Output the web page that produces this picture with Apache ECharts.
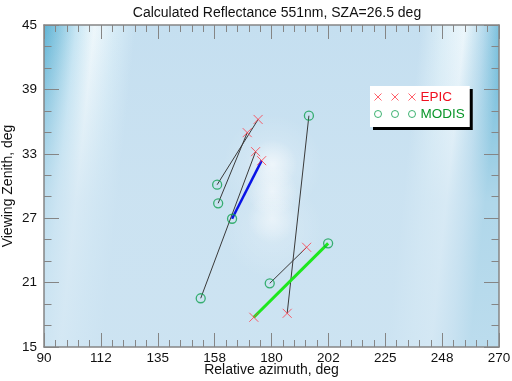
<!DOCTYPE html>
<html>
<head>
<meta charset="utf-8">
<script src="https://cdn.jsdelivr.net/npm/echarts@6/dist/echarts.min.js"></script>
<style>
html, body { margin: 0; padding: 0; background: #fff; }
#main { width: 512px; height: 381px; }
</style>
</head>
<body>
<div id="main"></div>
<script>
// tick labels as printed on the x axis (every 22.5 deg)
var xTickLabels = ['90', '112', '135', '158', '180', '202', '225', '248', '270'];

// EPIC (red x) and MODIS (green o), index i of each array is one matched pair
var epicAzimuth = [174.7, 170.4, 173.7, 176.1, 193.9, 186.2, 173.0];
var epicZenith = [36.2, 34.97, 33.2, 32.36, 24.29, 18.14, 17.77];
var modisAzimuth = [158.5, 158.9, 152.0, 164.4, 179.3, 194.8, 202.4];
var modisZenith = [30.12, 28.39, 19.54, 26.95, 20.93, 36.55, 24.66];

var font = 'Liberation Sans, Arial, Helvetica, sans-serif';
var frameColor = '#858585';
var pairLine = [
	{ color: '#3a3a3a', width: 1 },
	{ color: '#3a3a3a', width: 1 },
	{ color: '#3a3a3a', width: 1 },
	{ color: '#0a14e6', width: 2.5 },
	{ color: '#3a3a3a', width: 1 },
	{ color: '#3a3a3a', width: 1 },
	{ color: '#1ee81e', width: 3 }
];

function glow(a) {
	return {
		type: 'radial', x: 0.5, y: 0.5, r: 0.5,
		colorStops: [
			{ offset: 0, color: 'rgba(255,255,255,' + a + ')' },
			{ offset: 1, color: 'rgba(255,255,255,0)' }
		]
	};
}

var series = [];

// soft shading of the contour field: lower part fades to the base colour
series.push({
	type: 'scatter',
	silent: true,
	z: 0,
	data: [],
	markArea: {
		silent: true,
		z: 0,
		itemStyle: {
			color: {
				type: 'linear', x: 0, y: 0, x2: 0, y2: 1,
				colorStops: [
					{ offset: 0, color: 'rgba(206,228,242,0)' },
					{ offset: 0.25, color: 'rgba(206,228,242,0.3)' },
					{ offset: 0.55, color: 'rgba(206,228,242,0.7)' },
					{ offset: 1, color: 'rgba(206,228,242,0.82)' }
				]
			}
		},
		data: [[{ coord: [90, 45] }, { coord: [270, 15] }]]
	}
});

// bright maximum of the reflectance near the centre
series.push({
	type: 'scatter',
	silent: true,
	z: 2,
	symbol: 'circle',
	data: [
		{ value: [180.5, 32], symbolSize: 100, itemStyle: { color: glow(0.35) } },
		{ value: [180.5, 26], symbolSize: 100, itemStyle: { color: glow(0.3) } },
		{ value: [180.3, 32], symbolSize: 50, itemStyle: { color: glow(0.7) } },
		{ value: [180.3, 29.5], symbolSize: 50, itemStyle: { color: glow(0.7) } },
		{ value: [180.3, 27], symbolSize: 50, itemStyle: { color: glow(0.6) } }
	]
});

// connecting lines EPIC <-> MODIS
for (var i = 0; i < epicAzimuth.length; i++) {
	series.push({
		type: 'line',
		silent: true,
		z: 3,
		symbol: 'none',
		lineStyle: { color: pairLine[i].color, width: pairLine[i].width },
		data: [[modisAzimuth[i], modisZenith[i]], [epicAzimuth[i], epicZenith[i]]]
	});
}

var epicData = [], modisData = [];
for (var j = 0; j < epicAzimuth.length; j++) {
	epicData.push([epicAzimuth[j], epicZenith[j]]);
	modisData.push([modisAzimuth[j], modisZenith[j]]);
}

series.push({
	name: 'EPIC',
	type: 'scatter',
	z: 4,
	symbol: 'path://M0,0L10,10M10,0L0,10',
	symbolSize: 9,
	itemStyle: { color: 'rgba(0,0,0,0)', borderColor: '#ff3a46', borderWidth: 1 },
	data: epicData
});
series.push({
	name: 'MODIS',
	type: 'scatter',
	z: 4,
	symbol: 'circle',
	symbolSize: 9,
	itemStyle: { color: 'rgba(0,0,0,0)', borderColor: '#10a050', borderWidth: 1.3 },
	data: modisData
});

function xAxisOf(pos, labels) {
	return {
		type: 'value', position: pos, min: 90, max: 270, interval: 22.5, z: 10,
		axisLine: { show: true, onZero: false, lineStyle: { color: frameColor, width: 1.5 } },
		axisTick: { show: true, inside: true, length: 14, lineStyle: { color: frameColor, width: 1 } },
		minorTick: { show: true, splitNumber: 5, length: 7, lineStyle: { color: frameColor, width: 1 } },
		splitLine: { show: false },
		axisLabel: {
			show: labels, margin: 4, color: '#111', fontSize: 13.5, fontFamily: font,
			formatter: function (v) {
				var k = Math.round((v - 90) / 22.5);
				return xTickLabels[k] !== undefined ? xTickLabels[k] : '';
			}
		},
		name: labels ? 'Relative azimuth, deg' : '',
		nameLocation: 'middle', nameGap: 16, nameMoveOverlap: false,
		nameTextStyle: { color: '#111', fontSize: 14, fontFamily: font }
	};
}

function yAxisOf(pos, labels) {
	return {
		type: 'value', position: pos, min: 15, max: 45, interval: 6, z: 10,
		axisLine: { show: true, onZero: false, lineStyle: { color: frameColor, width: 1.5 } },
		axisTick: { show: true, inside: true, length: 15, lineStyle: { color: frameColor, width: 1 } },
		minorTick: { show: true, splitNumber: 3, length: 7.5, lineStyle: { color: frameColor, width: 1 } },
		splitLine: { show: false },
		axisLabel: { show: labels, margin: 7, color: '#111', fontSize: 13.5, fontFamily: font },
		name: labels ? 'Viewing Zenith, deg' : '',
		nameLocation: 'middle', nameGap: 29, nameMoveOverlap: false,
		nameTextStyle: { color: '#111', fontSize: 14, fontFamily: font }
	};
}

var chart = echarts.init(document.getElementById('main'));
chart.setOption({
	animation: false,
	title: {
		text: 'Calculated Reflectance 551nm, SZA=26.5 deg',
		left: 272, top: 1, textAlign: 'center',
		textStyle: { color: '#111', fontSize: 14, fontWeight: 'normal', fontFamily: font }
	},
	grid: {
		left: 44, right: 13, top: 25, bottom: 34,
		outerBoundsMode: 'none',
		containLabel: false,
		show: true, borderWidth: 0,
		backgroundColor: {
			type: 'linear', x: 0, y: 0, x2: 1, y2: 0.15,
			colorStops: [
				{ offset: 0, color: '#5fb3d4' },
				{ offset: 0.035, color: '#8fcae2' },
				{ offset: 0.07, color: '#c6e5f3' },
				{ offset: 0.11, color: '#eef7fb' },
				{ offset: 0.155, color: '#d6ebf6' },
				{ offset: 0.2, color: '#c5dff0' },
				{ offset: 0.82, color: '#c5dff0' },
				{ offset: 0.87, color: '#dceef7' },
				{ offset: 0.915, color: '#ecf6fb' },
				{ offset: 0.958, color: '#b3d9ec' },
				{ offset: 1, color: '#68b8d7' }
			]
		}
	},
	legend: {
		data: [
			{ name: 'EPIC', icon: 'path://M0,0L7,7M7,0L0,7M17,0L24,7M24,0L17,7M34,0L41,7M41,0L34,7', textStyle: { color: '#f01020' } },
			{ name: 'MODIS', icon: 'path://M7,3.5A3.5,3.5,0,1,1,0,3.5A3.5,3.5,0,1,1,7,3.5ZM24,3.5A3.5,3.5,0,1,1,17,3.5A3.5,3.5,0,1,1,24,3.5ZM41,3.5A3.5,3.5,0,1,1,34,3.5A3.5,3.5,0,1,1,41,3.5Z', textStyle: { color: '#0a962a' } }
		],
		orient: 'vertical',
		left: 370, top: 86,
		itemWidth: 41, itemHeight: 7, itemGap: 3,
		padding: [4, 5, 6, 4],
		backgroundColor: '#fff',
		shadowColor: '#000', shadowBlur: 0, shadowOffsetX: 3, shadowOffsetY: 3,
		selectedMode: false,
		itemStyle: { borderWidth: 1 },
		textStyle: { fontSize: 13.5, fontFamily: font }
	},
	xAxis: [xAxisOf('bottom', true), xAxisOf('top', false)],
	yAxis: [yAxisOf('left', true), yAxisOf('right', false)],
	series: series
});
</script>
</body>
</html>
